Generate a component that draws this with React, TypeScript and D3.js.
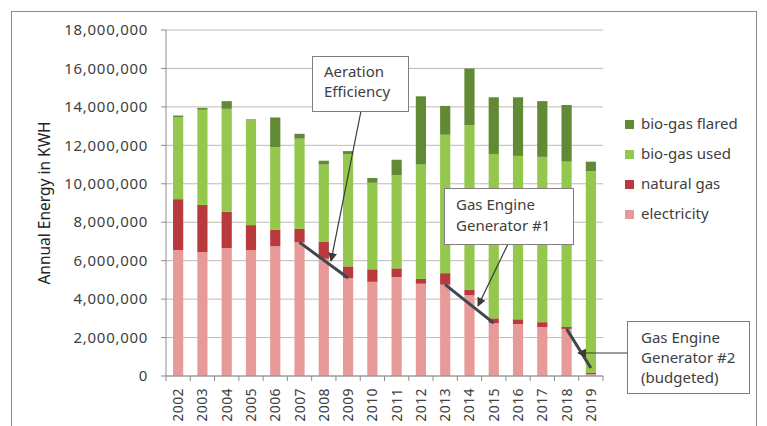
import * as d3 from 'd3'

const years = ['2002','2003','2004','2005','2006','2007','2008','2009','2010','2011','2012','2013','2014','2015','2016','2017','2018','2019']
const electricity = [6550000,6450000,6650000,6550000,6750000,6950000,6100000,5100000,4900000,5150000,4800000,4750000,4200000,2750000,2700000,2550000,2450000,100000]
const naturalGas = [2650000,2450000,1900000,1300000,850000,700000,900000,600000,650000,450000,250000,600000,300000,250000,250000,250000,100000,80000]
const bioUsed = [4270000,4950000,5350000,5450000,4300000,4700000,4000000,5850000,4500000,4850000,5950000,7200000,8550000,8550000,8500000,8600000,8600000,10470000]
const bioFlared = [80000,100000,400000,50000,1550000,250000,200000,150000,250000,800000,3550000,1500000,2950000,2950000,3050000,2900000,2950000,500000]
const yTicks = [0,2000000,4000000,6000000,8000000,10000000,12000000,14000000,16000000,18000000]

const seriesKeys = ['electricity','naturalGas','bioUsed','bioFlared']
const colors: Record<string,string> = {
  electricity: '#e89a98',
  naturalGas: '#b93a3c',
  bioUsed: '#93c84c',
  bioFlared: '#628a34',
}
const legendItems = [
  { key: 'bioFlared', label: 'bio-gas flared' },
  { key: 'bioUsed', label: 'bio-gas used' },
  { key: 'naturalGas', label: 'natural gas' },
  { key: 'electricity', label: 'electricity' },
]

// trend segments drawn over the electricity tops
const trends = [['2007','2009'],['2013','2015'],['2018','2019']]

const W = 767
const H = 426
const left = 166
const right = 603
const top = 30
const bottom = 376
const font = '"Noto Sans", "Open Sans", sans-serif'
const textColor = '#404040'

export default function App() {
  const rows = years.map((y, i) => ({
    year: y,
    electricity: electricity[i],
    naturalGas: naturalGas[i],
    bioUsed: bioUsed[i],
    bioFlared: bioFlared[i],
  }))
  const stacked = d3.stack<any>().keys(seriesKeys)(rows)

  const x = d3.scaleBand().domain(years).range([left, right])
  const y = d3.scaleLinear().domain([0, 18000000]).range([bottom, top])
  const barW = x.bandwidth() * 0.42
  const cx = (yr: string) => (x(yr) as number) + x.bandwidth() / 2
  const fmt = d3.format(',')
  const elecTop = (yr: string) => y(electricity[years.indexOf(yr)])

  return (
    <svg width={W} height={H} style={{ position: 'absolute', left: 0, top: 0, background: '#fff' }} fontFamily={font}>
      <defs>
        <marker id="arr" viewBox="0 0 10 10" refX="9" refY="5" markerWidth="9" markerHeight="9" orient="auto-start-reverse" markerUnits="userSpaceOnUse">
          <path d="M0,0 L10,5 L0,10 z" fill="#3a3a3a" />
        </marker>
      </defs>
      <rect x={11.5} y={11.5} width={745} height={420} fill="none" stroke="#8c8c8c" />

      {/* gridlines */}
      {yTicks.map(t => (
        <line key={t} x1={left} x2={right} y1={y(t)} y2={y(t)} stroke="#c4b9b4" strokeWidth={1} />
      ))}

      {/* bars */}
      {stacked.map(s => (
        <g key={s.key} fill={colors[s.key]}>
          {s.map((d, i) => (
            <rect key={i} x={cx(years[i]) - barW / 2} y={y(d[1])} width={barW} height={Math.max(0, y(d[0]) - y(d[1]))} />
          ))}
        </g>
      ))}

      {/* axes */}
      <line x1={left} x2={left} y1={top} y2={bottom} stroke="#8c8c8c" />
      <line x1={left} x2={right} y1={bottom} y2={bottom} stroke="#8c8c8c" />
      {yTicks.map(t => (
        <g key={t}>
          <line x1={left - 5} x2={left} y1={y(t)} y2={y(t)} stroke="#8c8c8c" />
          <text x={148} y={y(t)} dy="0.35em" textAnchor="end" fontSize={15} letterSpacing={0.7} fill={textColor}>{fmt(t)}</text>
        </g>
      ))}
      {years.map(yr => (
        <g key={yr}>
          <line x1={x(yr) as number} x2={x(yr) as number} y1={bottom} y2={bottom + 5} stroke="#8c8c8c" />
          <text transform={`translate(${cx(yr) + 5},${388}) rotate(-90)`} textAnchor="end" fontSize={14} letterSpacing={0.4} fill={textColor}>{yr}</text>
        </g>
      ))}
      <line x1={right} x2={right} y1={bottom} y2={bottom + 5} stroke="#8c8c8c" />

      <text transform={`translate(50,${(top + bottom) / 2}) rotate(-90)`} textAnchor="middle" fontSize={15.5} fill="#222">Annual Energy in KWH</text>

      {/* trend lines */}
      {trends.map(([a, b]) => (
        <line key={a} x1={cx(a)} y1={elecTop(a)} x2={cx(b)} y2={elecTop(b) + (b === '2019' ? -6 : 0)} stroke="#3e4850" strokeWidth={3} />
      ))}

      {/* callouts */}
      <line x1={361} y1={111} x2={331} y2={261} stroke="#3a3a3a" strokeWidth={1.2} markerEnd="url(#arr)" />
      <rect x={312.5} y={56.5} width={96} height={55} fill="#fff" stroke="#7f7f7f" />
      <text x={324} y={77} fontSize={15} fill={textColor}>Aeration</text>
      <text x={324} y={97} fontSize={15} fill={textColor}>Efficiency</text>

      <line x1={508} y1={244} x2={478} y2={306} stroke="#3a3a3a" strokeWidth={1.2} markerEnd="url(#arr)" />
      <rect x={444.5} y={188.5} width={129} height={56} fill="#fff" stroke="#7f7f7f" />
      <text x={456} y={210} fontSize={15} fill={textColor}>Gas Engine</text>
      <text x={456} y={231} fontSize={15} fill={textColor}>Generator #1</text>

      <line x1={627} y1={353} x2={578} y2={353} stroke="#3a3a3a" strokeWidth={1.2} markerEnd="url(#arr)" />
      <rect x={627.5} y={321.5} width={122} height={72} fill="#fff" stroke="#7f7f7f" />
      <text x={641} y={343} fontSize={15} fill={textColor}>Gas Engine</text>
      <text x={641} y={363} fontSize={15} fill={textColor}>Generator #2</text>
      <text x={641} y={383} fontSize={15} fill={textColor}>(budgeted)</text>

      {/* legend */}
      {legendItems.map((it, i) => (
        <g key={it.key} transform={`translate(625,${124 + i * 30})`}>
          <rect x={0} y={-4} width={9} height={9} fill={colors[it.key]} />
          <text x={16} y={0} dy="0.35em" fontSize={15} fill={textColor}>{it.label}</text>
        </g>
      ))}
    </svg>
  )
}
